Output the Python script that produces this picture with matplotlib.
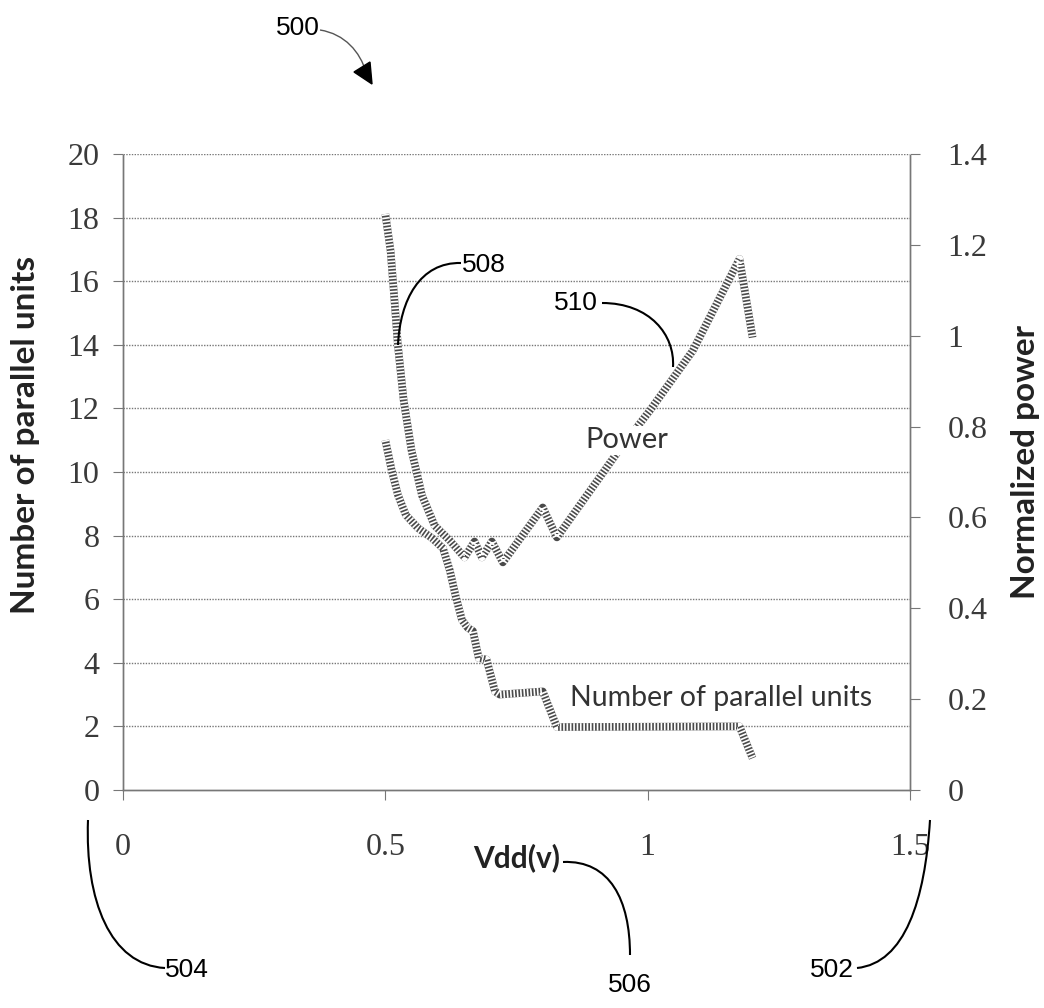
import numpy as np
import matplotlib.pyplot as plt
from matplotlib.path import Path
from matplotlib.patches import PathPatch, Polygon

# Vdd sweep (V) and the two curves
vdd_power = [0.50, 0.51, 0.516, 0.524, 0.535, 0.55, 0.57, 0.594, 0.623, 0.651,
             0.67, 0.684, 0.703, 0.724, 0.80, 0.827, 0.941, 1.004, 1.086, 1.175, 1.20]
power = [1.268, 1.187, 1.099, 0.978, 0.857, 0.747, 0.648, 0.582, 0.549, 0.512,
         0.547, 0.512, 0.547, 0.501, 0.622, 0.556, 0.741, 0.835, 0.967, 1.169, 0.996]

vdd_units = [0.50, 0.512, 0.524, 0.539, 0.562, 0.589, 0.61, 0.623, 0.634, 0.646,
             0.657, 0.667, 0.678, 0.693, 0.709, 0.718, 0.80, 0.827, 1.175, 1.20]
units = [11.0, 10.06, 9.28, 8.65, 8.24, 7.92, 7.6, 6.9, 6.1, 5.35,
         5.1, 5.0, 4.15, 4.1, 3.1, 3.0, 3.1, 1.98, 2.0, 1.0]

x_ticks = [0, 0.5, 1, 1.5]
left_ticks = list(range(0, 21, 2))
right_ticks = [0, 0.2, 0.4, 0.6, 0.8, 1, 1.2, 1.4]

W, H = 1044, 1008
fig = plt.figure(figsize=(W / 100, H / 100), dpi=100)
ax = fig.add_axes([123 / W, 1 - 790 / H, (910 - 123) / W, (790 - 154) / H])
ax2 = ax.twinx()

grid_kw = dict(color='#777777', lw=1.0, ls=(0, (1, 1)))
tick_font = dict(family='Liberation Serif', size=23, color='#3a3a3a')


def hatched(a, x, y):
    # thick grey line with dark cross-strokes, like the patent hatch pattern
    a.plot(x, y, color='#4a4a4a', lw=5.5, solid_capstyle='butt', zorder=3)
    a.plot(x, y, color='white', lw=5.5, ls=(0, (0.22, 0.22)), zorder=4)


hatched(ax, vdd_units, units)
hatched(ax2, vdd_power, power)

ax.set_xlim(0, 1.5)
ax.set_ylim(0, 20)
ax2.set_ylim(0, 1.4)
ax.set_xticks(x_ticks)
ax.set_xticklabels(['0', '0.5', '1', '1.5'])
ax.set_yticks(left_ticks)
ax2.set_yticks(right_ticks)
ax2.set_yticklabels(['0', '0.2', '0.4', '0.6', '0.8', '1', '1.2', '1.4'])

for t in left_ticks[1:]:
    ax.axhline(t, **grid_kw, zorder=1)

for a in (ax, ax2):
    a.spines['top'].set_visible(False)
    for s in ('left', 'right', 'bottom'):
        a.spines[s].set_color('#777777')
        a.spines[s].set_linestyle((0, (1, 1)))
        a.spines[s].set_linewidth(1.0)
    for lab in a.get_xticklabels() + a.get_yticklabels():
        lab.set_fontfamily(tick_font['family'])
        lab.set_fontsize(tick_font['size'])
        lab.set_color(tick_font['color'])
ax.tick_params(axis='x', length=7, color='#777777', pad=24)
ax.tick_params(axis='y', length=7, color='#777777', pad=10)
ax2.tick_params(axis='y', length=7, color='#777777', pad=20)
ax2.tick_params(axis='x', length=0)

# curve labels
ax2.text(0.961, 0.77, 'Power', family='Lato', fontsize=21, color='#333333',
         ha='center', va='center', zorder=5,
         bbox=dict(facecolor='white', edgecolor='none', pad=1))
ax.text(1.14, 2.9, 'Number of parallel units', family='Lato', fontsize=20.5,
        color='#333333', ha='center', va='center', zorder=5,
        bbox=dict(facecolor='white', edgecolor='none', pad=1))

# axis titles
fig.text(26 / W, 1 - 435 / H, 'Number of parallel units', family='Lato',
         weight='bold', fontsize=24, rotation=90, ha='center', va='center', color='#222222')
fig.text(1025 / W, 1 - 462 / H, 'Normalized power', family='Lato',
         weight='bold', fontsize=24, rotation=90, ha='center', va='center', color='#222222')
fig.text(517 / W, 1 - 858 / H, 'Vdd(v)', family='Lato', weight='bold', fontsize=21.5,
         ha='center', va='center', color='#222222')


# reference numerals with curved leaders (figure pixel coordinates)
def fp(x, y):
    return (x / W, 1 - y / H)


def leader(pts, color='black', lw=1.5):
    verts = [fp(*p) for p in pts]
    path = Path(verts, [Path.MOVETO, Path.CURVE4, Path.CURVE4, Path.CURVE4])
    fig.patches.append(PathPatch(path, fc='none', ec=color, lw=lw,
                                 transform=fig.transFigure))


ref_font = dict(family='Liberation Sans', fontsize=19, color='black',
                ha='center', va='center')
fig.text(*fp(298, 28), '500', **ref_font)
leader([(320, 30), (345, 34), (360, 52), (366, 72)], color='#555555', lw=1.0)
fig.patches.append(Polygon([fp(354, 72), fp(370, 62), fp(372, 84)], closed=True,
                           fc='black', ec='black', transform=fig.transFigure))

fig.text(*fp(484, 265), '508', **ref_font)
leader([(461, 263), (420, 262), (400, 300), (398, 345)])
fig.text(*fp(576, 303), '510', **ref_font)
leader([(602, 303), (650, 303), (675, 335), (673, 367)])
fig.text(*fp(187, 970), '504', **ref_font)
leader([(165, 968), (110, 965), (85, 900), (88, 820)])
fig.text(*fp(630, 985), '506', **ref_font)
leader([(563, 862), (610, 860), (630, 900), (630, 955)])
fig.text(*fp(832, 970), '502', **ref_font)
leader([(857, 968), (905, 963), (925, 900), (930, 820)])

fig.savefig('out.png', dpi=100)
